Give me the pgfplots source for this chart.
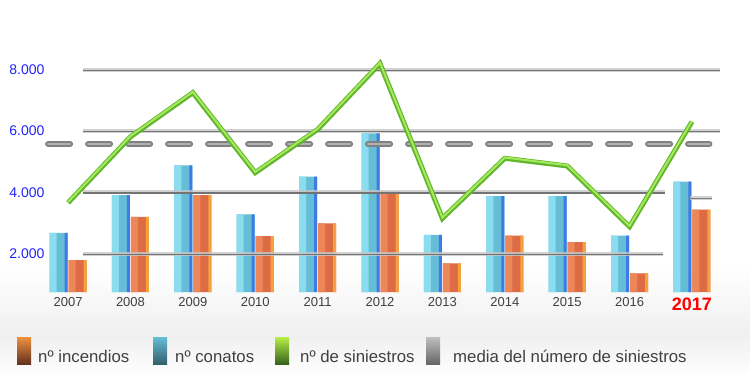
\documentclass[border=0pt]{standalone}
\usepackage{pgfplots}
\pgfplotsset{compat=1.18}
\usepackage{fontspec}
\setmainfont{Liberation Sans}
\definecolor{cL}{HTML}{8ADCEF}
\definecolor{cM}{HTML}{66BED6}
\definecolor{cE}{HTML}{3D7BE6}
\definecolor{oL}{HTML}{EC875A}
\definecolor{oM}{HTML}{DD6C44}
\definecolor{oE}{HTML}{F6A23C}
\definecolor{gD}{HTML}{62B52E}
\definecolor{gL}{HTML}{A4EA5C}
\definecolor{tickblue}{HTML}{2323F5}
\definecolor{txt}{HTML}{404040}
\pgfplotstableread{
x con inc
0 2680 1790
1 3910 3200
2 4880 3910
3 3280 2570
4 4510 2990
5 5920 4020
6 2610 1680
7 3880 2590
8 3880 2380
9 2590 1360
10 4350 3440
}\bars
\begin{document}
\begin{tikzpicture}
\path[use as bounding box] (0,0) rectangle (750pt,376pt);
\shade[top color=white, bottom color=black!6] (0,40pt) rectangle (750pt,110pt);
\shade[top color=black!6, bottom color=white] (0,0pt) rectangle (750pt,40pt);
\begin{axis}[
  at={(45pt,84pt)}, anchor=south west,
  scale only axis, width=675pt, height=253pt,
  xmin=-0.37, xmax=10.45, ymin=750, ymax=9000,
  axis line style={draw=none}, tick style={draw=none},
  xtick={0,...,10},
  xticklabels={2007,2008,2009,2010,2011,2012,2013,2014,2015,2016,{\color{red}\bfseries\fontsize{18}{18}\selectfont 2017}},
  xticklabel style={font=\fontsize{13}{13}\selectfont, text=txt, yshift=-2pt},
  ytick={2000,4000,6000,8000},
  yticklabels={2.000,4.000,6.000,8.000},
  yticklabel style={font=\fontsize{14}{14}\selectfont, text=tickblue, xshift=3pt},
]
% nº conatos
\addplot[ybar, bar width=18pt, bar shift=-9.5pt, draw=none, fill=cM] table[x=x,y=con] {\bars};
\addplot[forget plot, ybar, bar width=7pt, bar shift=-15pt, draw=none, fill=cL] table[x=x,y=con] {\bars};
\addplot[forget plot, ybar, bar width=3pt, bar shift=-2pt, draw=none, fill=cE] table[x=x,y=con] {\bars};
% nº incendios
\addplot[ybar, bar width=18pt, bar shift=9.5pt, draw=none, fill=oM] table[x=x,y=inc] {\bars};
\addplot[forget plot, ybar, bar width=7pt, bar shift=4pt, draw=none, fill=oL] table[x=x,y=inc] {\bars};
\addplot[forget plot, ybar, bar width=3pt, bar shift=17pt, draw=none, fill=oE] table[x=x,y=inc] {\bars};
% grid lines
\addplot[forget plot, line width=4pt, black!22, opacity=0.8] coordinates {(0.24,8000) (10.45,8000)};
\addplot[forget plot, line width=1.3pt, black!55, yshift=-0.8pt] coordinates {(0.24,8000) (10.45,8000)};
\addplot[forget plot, line width=4pt, black!22, opacity=0.8] coordinates {(0.24,6000) (10.45,6000)};
\addplot[forget plot, line width=1.3pt, black!55, yshift=-0.8pt] coordinates {(0.24,6000) (10.45,6000)};
\addplot[forget plot, line width=4pt, black!22, opacity=0.8] coordinates {(0.24,4000) (9.57,4000)};
\addplot[forget plot, line width=1.3pt, black!55, yshift=-0.8pt] coordinates {(0.24,4000) (9.57,4000)};
\addplot[forget plot, line width=4pt, black!22, opacity=0.8] coordinates {(9.97,3830) (10.32,3830)};
\addplot[forget plot, line width=1.3pt, black!50, yshift=-0.8pt] coordinates {(9.97,3830) (10.32,3830)};
\addplot[forget plot, line width=4pt, black!22, opacity=0.8] coordinates {(0.24,2000) (9.54,2000)};
\addplot[forget plot, line width=1.3pt, black!55, yshift=-0.8pt] coordinates {(0.24,2000) (9.54,2000)};
% media del número de siniestros
\addplot[forget plot, line width=6pt, black!50, line cap=round, dash pattern=on 22pt off 18pt] coordinates {(-0.32,5575) (10.28,5575)};
\addplot[forget plot, line width=2.5pt, black!30, line cap=round, dash pattern=on 22pt off 18pt] coordinates {(-0.32,5575) (10.28,5575)};
% nº de siniestros
\addplot[sharp plot, line width=5pt, gD, line join=miter] coordinates {
(0,3660) (1,5810) (2,7250) (3,4640) (4,6050) (5,8200) (6,3150) (7,5110) (8,4860) (9,2880) (10,6300)};
\addplot[sharp plot, line width=2pt, gL, line join=miter, yshift=0.8pt] coordinates {
(0,3660) (1,5810) (2,7250) (3,4640) (4,6050) (5,8200) (6,3150) (7,5110) (8,4860) (9,2880) (10,6300)};
\end{axis}
% legend
\shade[top color=oE!70!oM, bottom color=oM!45!black] (17pt,12pt) rectangle (31pt,39pt);
\shade[top color=cM, bottom color=cM!50!black] (153pt,12pt) rectangle (167pt,39pt);
\shade[top color=gL!80!yellow, bottom color=gD!55!black] (275pt,12pt) rectangle (289pt,39pt);
\shade[top color=black!25, bottom color=black!60] (426pt,12pt) rectangle (440pt,39pt);
\begin{scope}[every node/.style={anchor=base west, inner sep=0pt, text=txt, font=\fontsize{16.8}{17}\selectfont}]
\node at (38pt,14pt) {nº incendios};
\node at (175pt,14pt) {nº conatos};
\node at (300pt,14pt) {nº de siniestros};
\node at (453pt,14pt) {media del número de siniestros};
\end{scope}
\end{tikzpicture}
\end{document}
